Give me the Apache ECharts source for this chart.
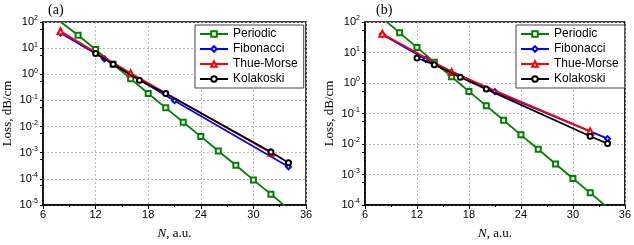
<!DOCTYPE html>
<html><head><meta charset="utf-8">
<script src="https://cdn.jsdelivr.net/npm/echarts@6/dist/echarts.min.js"></script>
<style>html,body{margin:0;padding:0;background:#fff}#c{width:634px;height:245px}</style>
</head><body><div id="c"></div>
<script>
// ---- data ----
const periodicN = [8,10,12,14,16,18,20,22,24,26,28,30,32,34];
const periodicA = [102,31,8.9,2.4,0.68,0.185,0.052,0.0146,0.0042,0.00116,0.00033,9.1e-5,2.6e-5,7e-6];
const periodicB = [135,44,14.7,4.8,1.6,0.53,0.178,0.060,0.020,0.0067,0.0022,7.4e-4,2.5e-4,8.3e-5];
const fibN = [8,13,21,34];
const fibA = [38,3.9,0.098,2.9e-4];
const fibB = [39,6.0,0.52,0.015];
const tmN = [8,16,32];
const tmA = [44,1.1,1.0e-3];
const tmB = [41,2.3,0.026];
const kolN = [12,14,17,20,32,34];
const kolA = [6.3,2.4,0.59,0.185,1.07e-3,4.1e-4];
const kolB = [6.6,4.0,1.55,0.63,0.018,0.0103];
const seriesNames = ['Periodic','Fibonacci','Thue-Morse','Kolakoski'];
const xTicks = [6,12,18,24,30,36];

const zip = (xs, ys) => xs.map((x, i) => [x, ys[i]]);
const colors = ['#008000','#0000ff','#ff0000','#000000'];
const symbols = ['emptyRect','emptyDiamond','emptyTriangle','emptyCircle'];
const sans = 'Liberation Sans, Arial, sans-serif';
const serif = 'Liberation Serif, Times New Roman, serif';

const chart = echarts.init(document.getElementById('c'));
const grids = [
  {left: 41, right: 328, top: 22, bottom: 38},
  {left: 365, right: 5, top: 22, bottom: 36}
];
const yRanges = [[1e-5, 100], [1e-4, 100]];

function xAxis(i) {
  return {
    type: 'value', gridIndex: i, min: xTicks[0], max: xTicks[xTicks.length - 1], interval: 6,
    axisLine: {lineStyle: {color: '#000', width: 1.5}},
    axisTick: {inside: false, length: 4, lineStyle: {color: '#000'}},
    minorTick: {show: true, splitNumber: 2, length: 2, lineStyle: {color: '#000'}},
    axisLabel: {color: '#000', fontFamily: sans, fontSize: 11, margin: 4},
    splitLine: {show: true, lineStyle: {color: '#bbb', type: [2, 2], width: 1}},
    name: '{i|N}, a.u.', nameLocation: 'middle', nameGap: 22,
    nameTextStyle: {fontFamily: serif, fontSize: 13, color: '#000',
      rich: {i: {fontFamily: serif, fontStyle: 'italic', fontSize: 13, color: '#000'}}}
  };
}
function yAxis(i) {
  return {
    type: 'log', logBase: 10, gridIndex: i, min: yRanges[i][0], max: yRanges[i][1], interval: 1,
    axisLine: {show: true, lineStyle: {color: '#000', width: 1.5}},
    axisTick: {show: true, inside: false, length: 3, lineStyle: {color: '#000'}},
    minorTick: {show: true, splitNumber: 2, length: 3, lineStyle: {color: '#000'}},
    axisLabel: {color: '#000', fontFamily: sans, fontSize: 11, margin: 5,
      formatter: v => '{b|10}{s|' + Math.round(Math.log10(v)) + '}',
      rich: {b: {fontFamily: sans, fontSize: 11, color: '#000'},
             s: {fontFamily: sans, fontSize: 7, color: '#000', verticalAlign: 'bottom', padding: [0, 0, 7, 0]}}},
    splitLine: {show: true, lineStyle: {color: '#bbb', type: [2, 2], width: 1}},
    name: 'Loss, dB/cm', nameLocation: 'middle', nameGap: 29, nameRotate: 90,
    nameTextStyle: {fontFamily: serif, fontSize: 13, color: '#000'}
  };
}

const dataA = [zip(periodicN, periodicA), zip(fibN, fibA), zip(tmN, tmA), zip(kolN, kolA)];
const dataB = [zip(periodicN, periodicB), zip(fibN, fibB), zip(tmN, tmB), zip(kolN, kolB)];
const series = [];
[dataA, dataB].forEach((ds, g) => {
  ds.forEach((d, k) => {
    series.push({
      type: 'line', name: seriesNames[k], xAxisIndex: g, yAxisIndex: g, data: d,
      symbol: symbols[k], symbolSize: k === 2 ? 6 : 5, clip: true,
      itemStyle: {color: colors[k], borderWidth: 1},
      lineStyle: {color: colors[k], width: 1.8},
      animation: false, z: 2 + k
    });
  });
});

function legend(left) {
  return {
    orient: 'vertical', left: left, top: 25, data: seriesNames,
    backgroundColor: '#fff', borderColor: '#444', borderWidth: 1,
    padding: [3, 6, 3, 4], itemGap: 3, itemWidth: 28, itemHeight: 7,
    itemStyle: {borderWidth: 1},
    textStyle: {fontFamily: sans, fontSize: 12, color: '#000'},
    selectedMode: false
  };
}

chart.setOption({
  animation: false,
  grid: grids.map(g => Object.assign({show: true, borderColor: '#000', borderWidth: 1.5, backgroundColor: 'transparent'}, g)),
  xAxis: [xAxis(0), xAxis(1)],
  yAxis: [yAxis(0), yAxis(1)],
  legend: [legend(195), legend(516)],
  graphic: [
    {type: 'text', left: 48, top: 3, style: {text: '(a)', font: '14px ' + serif, fill: '#000'}},
    {type: 'text', left: 376, top: 3, style: {text: '(b)', font: '14px ' + serif, fill: '#000'}}
  ],
  series: series
});
</script></body></html>
